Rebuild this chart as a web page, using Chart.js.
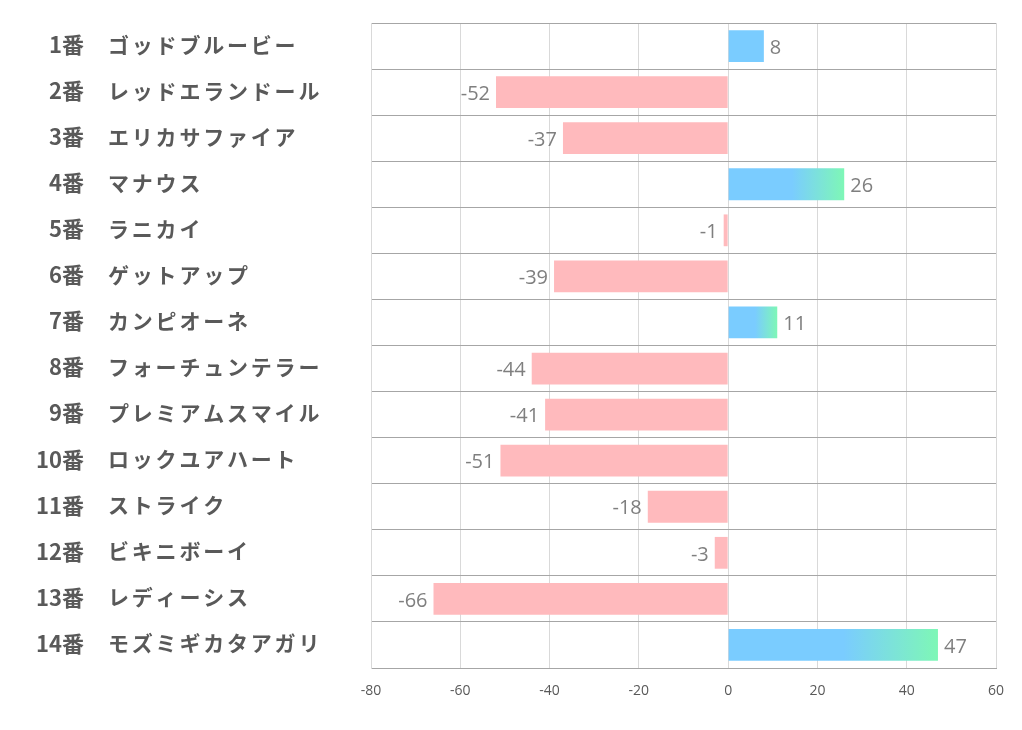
<!DOCTYPE html>
<html><head><meta charset="utf-8">
<script src="https://cdn.jsdelivr.net/npm/chart.js@4"></script>
<style>html,body{margin:0;padding:0;background:#fff;}#wrap{width:1022px;height:730px;}</style>
</head><body><div id="wrap"><canvas id="c" width="1022" height="730"></canvas></div>
<script>
const horseNumbers = ["1番","2番","3番","4番","5番","6番","7番","8番","9番","10番","11番","12番","13番","14番"];
const horseNames = ["ゴッドブルービー","レッドエランドール","エリカサファイア","マナウス","ラニカイ","ゲットアップ","カンピオーネ","フォーチュンテラー","プレミアムスマイル","ロックユアハート","ストライク","ビキニボーイ","レディーシス","モズミギカタアガリ"];
const scores = [8,-52,-37,26,-1,-39,11,-44,-41,-51,-18,-3,-66,47];
const xTicks = [-80,-60,-40,-20,0,20,40,60];

const BLUE = "#7accff", GREEN = "#7ef7b6", PINK = "#ffbabd";

function barColor(ctx){
  const v = ctx.raw;
  if (v < 0) return PINK;
  const chart = ctx.chart;
  if (!chart.scales || !chart.scales.x || v < 10) return BLUE;
  const x0 = chart.scales.x.getPixelForValue(0);
  const x1 = chart.scales.x.getPixelForValue(v);
  if (!isFinite(x0) || !isFinite(x1) || x1 <= x0) return BLUE;
  const g = chart.ctx.createLinearGradient(x0,0,x1,0);
  g.addColorStop(0, BLUE);
  g.addColorStop(0.55, BLUE);
  g.addColorStop(1, GREEN);
  return g;
}

const labelPlugin = {
  id: "labels",
  afterDraw(chart){
    const ctx = chart.ctx;
    const ys = chart.scales.y;
    ctx.save();
    ctx.fillStyle = "#595959";
    ctx.textBaseline = "middle";
    horseNumbers.forEach((n,i)=>{
      const y = ys.getPixelForValue(i) - 1.5;
      ctx.font = "bold 22px 'Noto Sans CJK JP'";
      ctx.letterSpacing = "0px";
      ctx.textAlign = "right";
      ctx.fillText(n, 84, y);
      ctx.font = "bold 21px 'Noto Sans CJK JP'";
      ctx.textAlign = "left";
      ctx.letterSpacing = "2.8px";
      ctx.fillText(horseNames[i], 108, y);
    });
    ctx.letterSpacing = "0px";
    // data labels
    const meta = chart.getDatasetMeta(0);
    ctx.font = "20px 'Open Sans'";
    ctx.fillStyle = "#7f7f7f";
    meta.data.forEach((bar,i)=>{
      const v = scores[i];
      const y = bar.y + 2;
      if (v >= 0){ ctx.textAlign = "left"; ctx.fillText(String(v), bar.x + 6, y); }
      else { ctx.textAlign = "right"; ctx.fillText(String(v), bar.x - 6, y); }
    });
    ctx.restore();
  }
};

new Chart(document.getElementById("c"), {
  type: "bar",
  data: { labels: horseNumbers.map((n,i)=>n+" "+horseNames[i]),
    datasets: [{ data: scores, backgroundColor: barColor, borderWidth: 0,
      barPercentage: 0.69, categoryPercentage: 1.0 }] },
  options: {
    indexAxis: "y",
    responsive: false,
    animation: false,
    layout: { padding: { top: 23, right: 26, left: 0, bottom: 0 } },
    plugins: { legend: { display: false }, tooltip: { enabled: false } },
    scales: {
      x: { min: -80, max: 60,
        afterBuildTicks(s){ s.ticks = xTicks.map(v=>({value:v})); },
        afterFit(s){ s.height = 62; },
        grid: { color: "#d9d9d9", lineWidth: 1, drawTicks: false },
        border: { display: true, color: "#a6a6a6", width: 1 },
        ticks: { color: "#595959", font: { family: "'Open Sans'", size: 14 }, padding: 15 } },
      y: { afterFit(s){ s.width = 371; },
        grid: { color: "#a6a6a6", lineWidth: 1, drawTicks: false, offset: true },
        border: { display: true, color: "#d9d9d9", width: 1 },
        ticks: { display: false } }
    }
  },
  plugins: [labelPlugin]
});
</script>
</body></html>
